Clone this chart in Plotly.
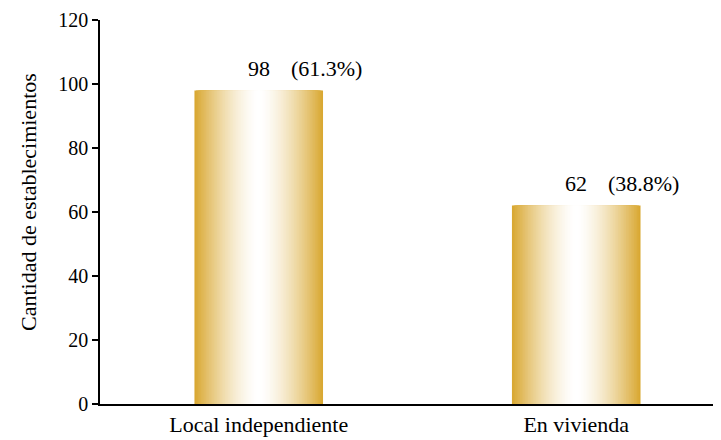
import plotly.graph_objects as go

categories = ["Local independiente", "En vivienda"]
values = [98, 62]
percents = ["61.3%", "38.8%"]
y_ticks = [0, 20, 40, 60, 80, 100, 120]
y_title = "Cantidad de establecimientos"

GOLD = (217, 168, 50)
WHITE = (255, 255, 255)
BAR_W = 0.405
N = 40

def blend(t):
    t = 1 - (1 - t) ** 1.5
    r = [round(g * (1 - t) + w * t) for g, w in zip(GOLD, WHITE)]
    return f"rgb({r[0]},{r[1]},{r[2]})"

fig = go.Figure()
for k in range(N):
    t = k / (N - 1)
    fig.add_trace(go.Bar(
        x=categories, y=values,
        width=BAR_W * (1 - k / N),
        marker=dict(color=blend(t), line=dict(width=0)),
        hoverinfo="skip", showlegend=False,
    ))

FONT = "Times New Roman, Liberation Serif, DejaVu Serif, serif"
for c, v, p in zip(categories, values, percents):
    fig.add_annotation(
        x=c, y=v, text=f"{v}\u00a0\u00a0\u00a0\u2009({p})",
        showarrow=False, xshift=46, yshift=22,
        font=dict(family=FONT, size=22, color="black"),
    )

fig.add_annotation(
    xref="paper", yref="paper", x=0, y=0.5, xanchor="center", yanchor="middle",
    xshift=-72, yshift=10, textangle=-90, showarrow=False, text=y_title,
    font=dict(family=FONT, size=22, color="black"),
)

fig.update_layout(
    barmode="overlay",
    width=713, height=432,
    margin=dict(l=92, r=0, t=12, b=36),
    paper_bgcolor="white", plot_bgcolor="white",
    font=dict(family=FONT, size=20, color="black"),
    xaxis=dict(
        range=[-0.5, 1.456], showline=True, linecolor="black", linewidth=1.5,
        ticks="", showgrid=False, zeroline=False,
        tickfont=dict(family=FONT, size=22),
    ),
    yaxis=dict(
        range=[0, 120], tickvals=y_ticks, showline=True, linecolor="black",
        linewidth=1.5, ticks="outside", ticklen=6, tickwidth=1.5,
        tickcolor="black", showgrid=False, zeroline=False,
        tickfont=dict(family=FONT, size=20),
    ),
)

fig.write_html("out.html")
